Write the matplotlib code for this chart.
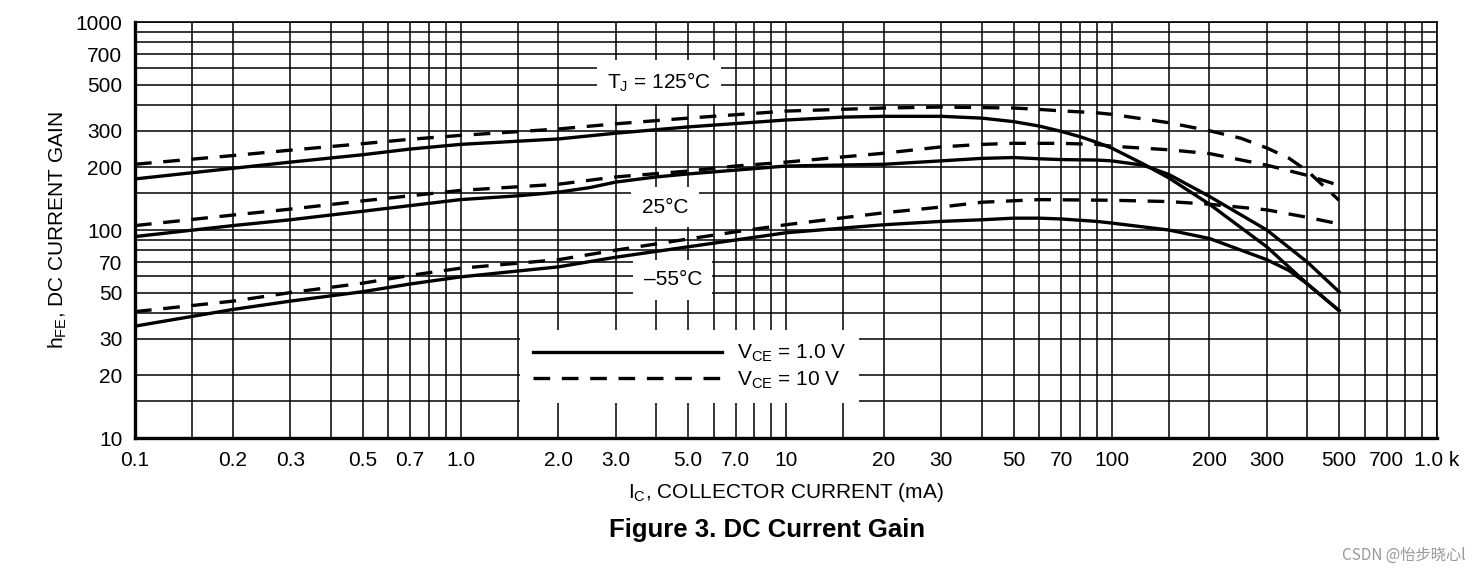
import matplotlib
matplotlib.use('Agg')
import matplotlib.pyplot as plt
from matplotlib.lines import Line2D
from matplotlib.ticker import FixedLocator, NullFormatter

plt.rcParams['font.family'] = ['Liberation Sans Narrow', 'Liberation Sans', 'DejaVu Sans']
plt.rcParams['mathtext.default'] = 'regular'

# Ic (mA) / hFE
ic_125_1v = [0.1, 0.2, 0.3, 0.5, 0.7, 1.0, 2.0, 3.0, 5.0, 10, 15, 20, 30, 40, 50, 60, 70, 80, 90, 100, 125, 150, 200, 300, 400, 500]
hfe_125_1v = [176, 198, 212, 230, 245, 258, 274, 292, 313, 338, 349, 352, 352, 345, 332, 316, 298, 281, 264, 248, 208, 178, 133, 83, 55, 41]

ic_25_1v = [0.1, 0.2, 0.3, 0.5, 0.7, 1.0, 1.5, 2.0, 2.5, 3.0, 4.0, 5.0, 7.0, 10, 20, 30, 40, 50, 60, 70, 90, 100, 125, 150, 200, 300, 400, 500]
hfe_25_1v = [93, 105, 112, 123, 131, 140, 146, 152, 160, 170, 180, 186, 194, 203, 207, 215, 221, 223, 220, 218, 217, 215, 205, 185, 145, 100, 70, 50.5]

ic_m55_1v = [0.1, 0.2, 0.3, 0.5, 0.7, 1.0, 2.0, 3.0, 5.0, 10, 20, 30, 40, 50, 60, 70, 90, 100, 150, 200, 300, 350, 400, 500]
hfe_m55_1v = [34.5, 41.5, 45.5, 50.5, 55, 59.5, 66.5, 74, 83, 97, 106, 110, 112, 114, 114, 113, 110, 108, 100, 91, 72, 64, 55, 41]

ic_125_10v = [0.1, 0.2, 0.3, 0.5, 0.7, 1.0, 2.0, 3.0, 5.0, 10, 20, 30, 50, 60, 70, 90, 100, 150, 200, 250, 300, 350, 400, 500]
hfe_125_10v = [207, 228, 242, 260, 273, 285, 306, 324, 345, 373, 386, 390, 386, 380, 374, 366, 360, 328, 300, 276, 248, 222, 192, 139]

ic_25_10v = [0.1, 0.2, 0.3, 0.5, 0.7, 1.0, 2.0, 3.0, 5.0, 7.0, 10, 20, 30, 40, 50, 70, 90, 100, 150, 200, 300, 400, 500]
hfe_25_10v = [105, 118, 126, 138, 146, 155, 166, 180, 192, 203, 212, 234, 251, 258, 261, 261, 258, 253, 243, 233, 205, 183, 164]

ic_m55_10v = [0.1, 0.2, 0.3, 0.5, 0.7, 1.0, 2.0, 3.0, 5.0, 7.0, 10, 20, 30, 40, 60, 100, 150, 200, 300, 400, 500]
hfe_m55_10v = [40.5, 45.5, 50, 55.5, 60.5, 65.5, 72, 80, 90.5, 98, 106, 121, 129, 136, 140, 139, 137, 133, 125, 115, 107]

x_ticks = [0.1, 0.2, 0.3, 0.5, 0.7, 1, 2, 3, 5, 7, 10, 20, 30, 50, 70, 100, 200, 300, 500, 700, 1000]
x_labels = ['0.1', '0.2', '0.3', '0.5', '0.7', '1.0', '2.0', '3.0', '5.0', '7.0', '10', '20', '30',
            '50', '70', '100', '200', '300', '500', '700', '1.0 k']
y_ticks = [10, 20, 30, 50, 70, 100, 200, 300, 500, 700, 1000]
y_labels = ['10', '20', '30', '50', '70', '100', '200', '300', '500', '700', '1000']

grid_mant = [1, 1.5, 2, 3, 4, 5, 6, 7, 8, 9]
x_grid = [m * d for d in [0.1, 1, 10, 100] for m in grid_mant] + [1000]
y_grid = [m * d for d in [10, 100] for m in grid_mant] + [1000]

fig = plt.figure(figsize=(14.82, 5.74), dpi=100)
ax = fig.add_axes([135 / 1482, 136 / 574, 1302 / 1482, 416 / 574])

ax.set_xscale('log')
ax.set_yscale('log')
ax.set_xlim(0.1, 1000)
ax.set_ylim(10, 1000)

lw = 2.4
dash = (0, (5, 3.5))
for x, y in [(ic_125_1v, hfe_125_1v), (ic_25_1v, hfe_25_1v), (ic_m55_1v, hfe_m55_1v)]:
    ax.plot(x, y, color='black', linewidth=lw, solid_joinstyle='round', zorder=3)
for x, y in [(ic_125_10v, hfe_125_10v), (ic_25_10v, hfe_25_10v), (ic_m55_10v, hfe_m55_10v)]:
    ax.plot(x, y, color='black', linewidth=lw, linestyle=dash, zorder=3)

ax.xaxis.set_major_locator(FixedLocator(x_ticks))
ax.xaxis.set_minor_locator(FixedLocator(x_grid))
ax.xaxis.set_minor_formatter(NullFormatter())
ax.set_xticklabels(x_labels)
ax.yaxis.set_major_locator(FixedLocator(y_ticks))
ax.yaxis.set_minor_locator(FixedLocator(y_grid))
ax.yaxis.set_minor_formatter(NullFormatter())
ax.set_yticklabels(y_labels)

ax.grid(True, which='both', color='black', linewidth=1.1, zorder=0)
ax.set_axisbelow(True)
ax.tick_params(which='both', length=0, labelsize=15, pad=9)

for side in ['left', 'bottom']:
    ax.spines[side].set_linewidth(2.4)
for side in ['top', 'right']:
    ax.spines[side].set_linewidth(1.2)

ax.set_xlabel(r'I$_\mathregular{C}$, COLLECTOR CURRENT (mA)', fontsize=15, labelpad=8)
ax.set_ylabel(r'h$_\mathregular{FE}$, DC CURRENT GAIN', fontsize=15, labelpad=5)

box = dict(boxstyle='square,pad=0.5', facecolor='white', edgecolor='none')
ax.text(0.4025, 0.856, r'T$_\mathregular{J}$ = 125°C', transform=ax.transAxes, fontsize=15,
        ha='center', va='center', bbox=box, zorder=4)
ax.text(0.407, 0.555, '25°C', transform=ax.transAxes, fontsize=15,
        ha='center', va='center', bbox=box, zorder=4)
ax.text(0.413, 0.380, '–55°C', transform=ax.transAxes, fontsize=15,
        ha='center', va='center', bbox=box, zorder=4)

handles = [Line2D([], [], color='black', linewidth=lw),
           Line2D([], [], color='black', linewidth=lw, linestyle=dash)]
leg = ax.legend(handles, [r'V$_\mathregular{CE}$ = 1.0 V', r'V$_\mathregular{CE}$ = 10 V'],
                loc='center', bbox_to_anchor=(0.426, 0.171), fontsize=15,
                handlelength=9.1, handletextpad=0.7, borderpad=0.6, labelspacing=0.25,
                frameon=True, fancybox=False, framealpha=1, borderaxespad=0)
leg.get_frame().set_edgecolor('none')
leg.get_frame().set_facecolor('white')
leg.set_zorder(5)

fig.text(0.5176, 44 / 574, 'Figure 3. DC Current Gain', ha='center', va='center',
         fontsize=18.5, fontweight='bold', family=['Liberation Sans', 'DejaVu Sans'])
fig.text(0.989, 19 / 574, 'CSDN @怡步晓心l', ha='right', va='center', fontsize=11,
         color='#999999', family=['Noto Sans CJK SC', 'DejaVu Sans'])

fig.savefig('out.png', dpi=100)
